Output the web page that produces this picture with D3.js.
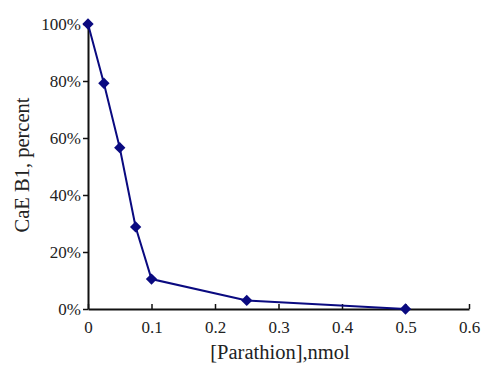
<!DOCTYPE html>
<html>
<head>
<meta charset="utf-8">
<script src="https://cdn.jsdelivr.net/npm/d3@7"></script>
<style>
  body { margin: 0; background: #fff; }
</style>
</head>
<body>
<svg id="chart" width="482" height="367"></svg>
<script>
// Chart data
const concentrations = [0, 0.025, 0.05, 0.075, 0.1, 0.25, 0.5];
const activity = [100, 79.2, 56.6, 28.8, 10.5, 3.0, 0];
const xTicks = [0, 0.1, 0.2, 0.3, 0.4, 0.5, 0.6];
const yTicks = [0, 20, 40, 60, 80, 100];

const FONT = '"Liberation Serif", "DejaVu Serif", "Times New Roman", serif';
const margin = { left: 88, right: 13, top: 24, bottom: 58 };
const width = 482, height = 367;

const svg = d3.select('#chart');

const x = d3.scaleLinear().domain([0, 0.6]).range([margin.left, width - margin.right]);
const y = d3.scaleLinear().domain([0, 100]).range([height - margin.bottom, margin.top]);

// X axis, ticks pointing up into the plot
const xAxis = svg.append('g')
  .attr('transform', `translate(0,${y(0)})`)
  .call(d3.axisBottom(x).tickValues(xTicks).tickSizeInner(-5).tickSizeOuter(0)
    .tickFormat(d => d === 0 ? '0' : d3.format('.1f')(d)));
xAxis.attr('font-family', FONT);
xAxis.select('.domain').attr('stroke', '#111').attr('stroke-width', 2);
xAxis.selectAll('.tick line').attr('stroke', '#111').attr('stroke-width', 1.5);
xAxis.selectAll('.tick text').attr('y', 12).attr('fill', '#222').style('font-size', '17px');

// Y axis
const yAxis = svg.append('g')
  .attr('transform', `translate(${x(0)},0)`)
  .call(d3.axisLeft(y).tickValues(yTicks).tickSizeInner(5).tickSizeOuter(0)
    .tickFormat(d => d + '%'));
yAxis.attr('font-family', FONT);
yAxis.select('.domain').attr('stroke', '#111').attr('stroke-width', 2);
yAxis.selectAll('.tick line').attr('stroke', '#111').attr('stroke-width', 1.5);
yAxis.selectAll('.tick text').attr('x', -7).attr('fill', '#222').style('font-size', '17px');

// Axis titles
svg.append('text')
  .attr('x', 280).attr('y', 359)
  .attr('text-anchor', 'middle')
  .attr('font-family', FONT)
  .attr('fill', '#222')
  .style('font-size', '20.5px')
  .text('[Parathion],nmol');

svg.append('text')
  .attr('transform', 'translate(29,165) rotate(-90)')
  .attr('text-anchor', 'middle')
  .attr('font-family', FONT)
  .attr('fill', '#222')
  .style('font-size', '20.5px')
  .text('CaE B1, percent');

// Data line
const pts = concentrations.map((c, i) => ({ c, v: activity[i] }));
svg.append('path')
  .datum(pts)
  .attr('fill', 'none')
  .attr('stroke', '#0a0a80')
  .attr('stroke-width', 2)
  .attr('d', d3.line().x(d => x(d.c)).y(d => y(d.v)));

// Diamond markers (squares turned 45 degrees)
svg.selectAll('.marker')
  .data(pts)
  .enter().append('path')
  .attr('class', 'marker')
  .attr('transform', d => `translate(${x(d.c)},${y(d.v)}) rotate(45)`)
  .attr('d', d3.symbol().type(d3.symbolSquare).size(64))
  .attr('fill', '#0a0a80');
</script>
</body>
</html>
